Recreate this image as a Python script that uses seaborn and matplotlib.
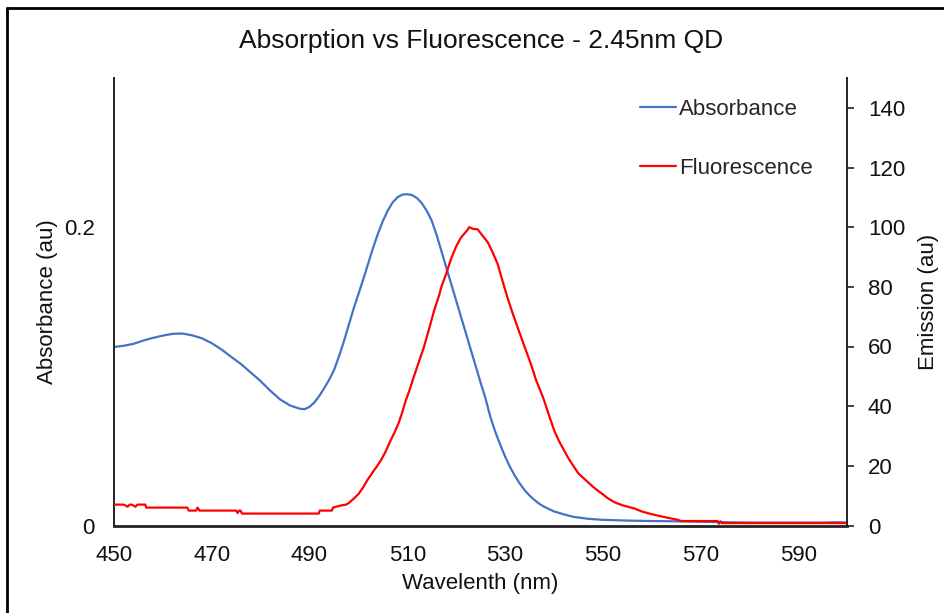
import matplotlib
matplotlib.use("Agg")
import matplotlib.pyplot as plt
import seaborn as sns
import pandas as pd
from matplotlib.lines import Line2D

# ---------------- data ----------------
abs_wl = [450, 452, 454, 456, 458, 460, 462, 464, 466, 468, 470, 472, 474, 476, 478,
          480, 482, 484, 486, 488, 489, 490, 491, 492, 493, 494, 495, 496, 497, 498,
          499, 500, 501, 502, 503, 504, 505, 506, 507, 508, 509, 510, 511, 512, 513,
          514, 515, 516, 517, 518, 519, 520, 521, 522, 523, 524, 525, 526, 527, 528,
          529, 530, 531, 532, 533, 534, 535, 536, 537, 538, 540, 542, 544, 547, 550,
          555, 560, 565, 570, 575, 580, 585, 590, 595, 598, 600]
abs_val = [0.1197, 0.1205, 0.1218, 0.1240, 0.1258, 0.1273, 0.1285, 0.1287, 0.1275, 0.1255,
           0.1222, 0.1180, 0.1130, 0.1082, 0.1025, 0.0968, 0.0903, 0.0845, 0.0805, 0.0783,
           0.0780, 0.0795, 0.0825, 0.0868, 0.0920, 0.0975, 0.1040, 0.1130, 0.1230, 0.1340,
           0.1450, 0.1550, 0.1650, 0.1755, 0.1860, 0.1955, 0.2040, 0.2110, 0.2165, 0.2200,
           0.2218, 0.2221, 0.2215, 0.2195, 0.2160, 0.2110, 0.2045, 0.1950, 0.1840, 0.1730,
           0.1620, 0.1510, 0.1400, 0.1290, 0.1180, 0.1070, 0.0960, 0.0855, 0.0730, 0.0630,
           0.0545, 0.0465, 0.0395, 0.0335, 0.0283, 0.0238, 0.0202, 0.0172, 0.0146, 0.0126,
           0.0095, 0.0075, 0.0058, 0.0045, 0.0038, 0.0033, 0.0030, 0.0028, 0.0025, 0.0022,
           0.0020, 0.0020, 0.0020, 0.0020, 0.0022, 0.0020]

fl_wl = [450, 451, 452, 452.8, 453.2, 453.6, 454.4, 454.8, 455.2, 456.4, 456.6, 460, 465,
         465.3, 466.8, 467.1, 467.5, 470, 475, 475.3, 475.6, 475.9, 476.2, 480, 485, 490,
         491.9, 492.1, 494.6, 494.8, 496.4, 497.5, 498, 499, 500, 501, 501.8, 503, 504,
         504.6, 505.5, 506.6, 507.5, 508.3, 509, 509.7, 510.4, 511.1, 512, 513.4, 514.5,
         515.5, 516.5, 517, 518, 519, 520, 521, 522.3, 522.7, 523.5, 524.4, 525.5, 526.5,
         527.5, 528.5, 529.5, 530.5, 531.5, 532.6, 534, 535.3, 536.4, 537.3, 538, 539,
         540.1, 541, 542, 543, 544.2, 545, 546, 547, 548, 549, 550, 551, 552.4, 554, 556.5,
         558, 560, 561.3, 563, 565.4, 566, 573.5, 573.8, 574.1, 574.4, 580, 590, 600]
fl_val = [7.0, 7.0, 7.0, 6.3, 7.0, 7.0, 6.3, 7.0, 7.0, 7.0, 6.0, 6.0, 6.0,
          5.0, 5.0, 6.0, 5.0, 5.0, 5.0, 4.2, 5.0, 5.0, 4.0, 4.0, 4.0, 4.0,
          4.0, 5.0, 5.0, 6.0, 6.7, 7.0, 7.5, 8.9, 10.5, 12.8, 15.1, 18.0, 20.3,
          21.8, 24.5, 28.5, 31.5, 34.6, 38.0, 41.9, 45.0, 48.6, 53.0, 59.7, 66.0,
          72.0, 77.0, 80.0, 84.5, 89.5, 93.5, 96.5, 99.0, 100.0, 99.4, 99.3, 97.0, 94.9,
          91.5, 87.7, 82.0, 76.5, 71.5, 66.4, 60.0, 54.2, 48.6, 45.0, 42.0, 37.0,
          31.8, 28.5, 25.5, 22.5, 19.5, 17.5, 16.0, 14.5, 13.0, 11.7, 10.5, 9.2, 7.8, 6.8, 5.7,
          4.7, 3.8, 3.3, 2.7, 1.9, 1.5, 1.5, 0.6, 1.4, 0.8, 0.8, 0.8, 0.8]

x_ticks = [450, 470, 490, 510, 530, 550, 570, 590]
left_ticks = [0, 0.2]
right_ticks = [0, 20, 40, 60, 80, 100, 120, 140]

df_abs = pd.DataFrame({"wl": abs_wl, "val": abs_val})
df_fl = pd.DataFrame({"wl": fl_wl, "val": fl_val})

# ---------------- style ----------------
sns.set_theme(style="white")
plt.rcParams["font.family"] = ["Liberation Sans", "DejaVu Sans"]

BLUE = "#4472C4"
RED = "#FF0000"
FS = 16

fig = plt.figure(figsize=(9.45, 6.13), dpi=100)
ax = fig.add_axes([114 / 945, (613 - 525.5) / 613, (847 - 114) / 945, (525.5 - 78) / 613])
ax2 = ax.twinx()

sns.lineplot(data=df_abs, x="wl", y="val", ax=ax, color=BLUE, linewidth=1.6,
             sort=False, estimator=None)
sns.lineplot(data=df_fl, x="wl", y="val", ax=ax2, color=RED, linewidth=1.6,
             sort=False, estimator=None)

ax.set_xlim(450, 600)
ax.set_ylim(0, 0.3)
ax2.set_ylim(0, 150)

ax.set_xticks(x_ticks)
ax.set_xticklabels([str(t) for t in x_ticks])
ax.set_yticks(left_ticks)
ax.set_yticklabels(["0", "0.2"])
ax2.set_yticks(right_ticks)
ax2.set_yticklabels([str(t) for t in right_ticks])

for a in (ax, ax2):
    a.set_facecolor("none")
    a.grid(False)
    for s in a.spines.values():
        s.set_visible(False)

ax.spines["left"].set_visible(True)
ax.spines["bottom"].set_visible(True)
ax2.spines["right"].set_visible(True)
for a, side in ((ax, "left"), (ax, "bottom"), (ax2, "right")):
    a.spines[side].set_color("#222222")
    a.spines[side].set_linewidth(1.4)
ax.spines["bottom"].set_linewidth(2.0)

ax.tick_params(axis="x", length=0, pad=14, labelsize=FS, colors="#111111")
ax.tick_params(axis="y", length=0, pad=14, labelsize=FS, colors="#111111")
ax2.tick_params(axis="y", length=5, width=1.2, direction="out", pad=10,
                labelsize=FS, colors="#111111")
ax2.tick_params(axis="y", color="#222222")

ax.set_xlabel("Wavelenth (nm)", fontsize=FS, color="#111111", labelpad=5)
ax.set_ylabel("Absorbance (au)", fontsize=FS, color="#111111", labelpad=4)
ax2.set_ylabel("Emission (au)", fontsize=FS, color="#111111", labelpad=9)

fig.text(481 / 945, 1 - 41 / 613, "Absorption vs Fluorescence - 2.45nm QD",
         ha="center", va="center", fontsize=19, color="#111111")

handles = [Line2D([], [], color=BLUE, linewidth=1.6),
           Line2D([], [], color=RED, linewidth=1.6)]
leg = ax2.legend(handles, ["Absorbance", "Fluorescence"], loc="upper right",
                 bbox_to_anchor=(813 / 945, 1 - 99 / 613), bbox_transform=fig.transFigure,
                 frameon=False, fontsize=FS, handlelength=1.6, handletextpad=0.15,
                 labelspacing=1.72, borderaxespad=0, borderpad=0)

# figure border (top and left edges)
fig.add_artist(Line2D([7 / 945, 1.0], [1 - 7.5 / 613, 1 - 7.5 / 613],
                      transform=fig.transFigure, color="black", linewidth=2))
fig.add_artist(Line2D([7 / 945, 7 / 945], [0.0, 1 - 7.5 / 613],
                      transform=fig.transFigure, color="black", linewidth=2))

fig.savefig("out.png", dpi=100)
